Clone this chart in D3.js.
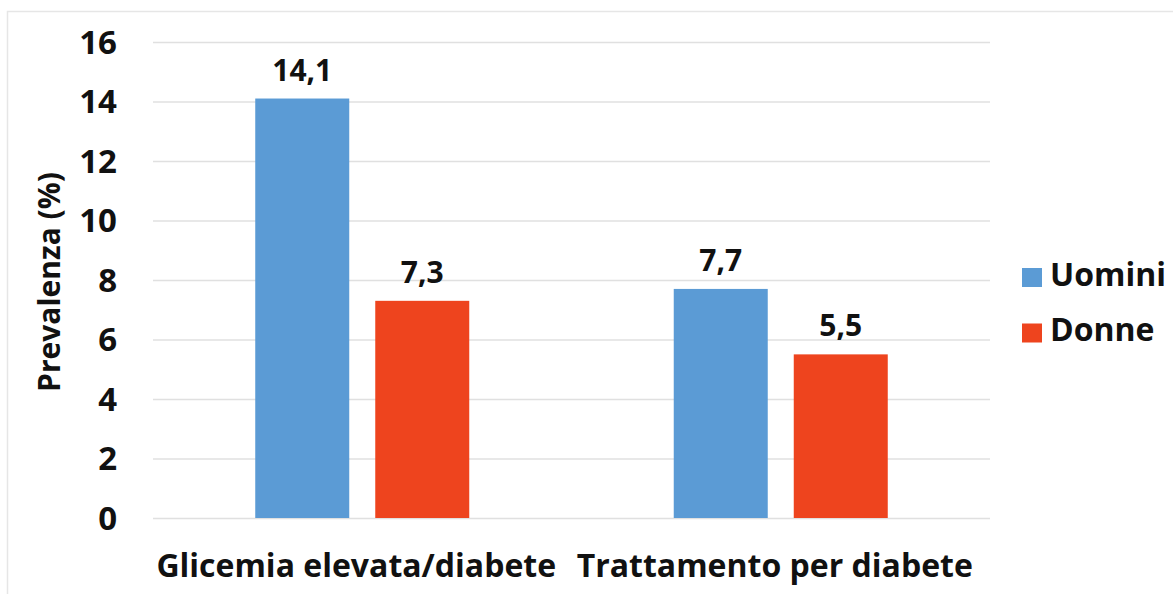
<!DOCTYPE html>
<html><head><meta charset="utf-8">
<script src="https://cdn.jsdelivr.net/npm/d3@7"></script>
<style>
html,body{margin:0;padding:0;background:#fff;}
svg{display:block;font-family:"Open Sans",Lato,sans-serif;font-weight:bold;}
</style></head>
<body>
<svg id="chart" width="1173" height="594"></svg>
<script>
const categories = ["Glicemia elevata/diabete", "Trattamento per diabete"];
const seriesNames = ["Uomini", "Donne"];
const uomini = [14.1, 7.7];
const donne = [7.3, 5.5];
const valueLabels = [["14,1", "7,7"], ["7,3", "5,5"]];
const yTicks = [0, 2, 4, 6, 8, 10, 12, 14, 16];
const colors = ["#5B9BD5", "#EE441E"];
const yTitle = "Prevalenza (%)";

(function () {
const svg = d3.select("#chart");
const W = 1173, H = 594;
const pLeft = 153, pRight = 990, pTop = 42, pBottom = 518;
const FONT = "'Open Sans', Lato, sans-serif";

svg.append("path").attr("d", `M7.5,${H}V11.5H${W}`)
  .attr("fill", "none").attr("stroke", "#E6E6E6").attr("stroke-width", 1.5);

const y = d3.scaleLinear().domain([0, 16]).range([pBottom, pTop]);
const x0 = d3.scaleBand().domain(categories).range([pLeft, pRight]).paddingInner(0).paddingOuter(0);
const x1 = d3.scaleBand().domain(seriesNames).range([0, x0.bandwidth()]).paddingInner(0.2167).paddingOuter(0.852);

const yAxis = d3.axisLeft(y).tickValues(yTicks).tickSize(-(pRight - pLeft)).tickPadding(36);
const gy = svg.append("g").attr("transform", `translate(${pLeft},0)`).call(yAxis);
gy.select(".domain").remove();
gy.selectAll(".tick line").attr("stroke", "#E0E0E0").attr("stroke-width", 1.5);
gy.selectAll(".tick text").attr("font-size", 33).attr("fill", "#111")
  .attr("font-family", FONT).attr("font-weight", "bold").attr("dy", "0.34em");

const data = categories.map((c, i) => ({cat: c, vals: [uomini[i], donne[i]]}));
const groups = svg.append("g").selectAll("g").data(data).join("g")
  .attr("transform", d => `translate(${x0(d.cat)},0)`);
groups.selectAll("rect").data((d, i) => d.vals.map((v, j) => ({v, j, i}))).join("rect")
  .attr("x", d => x1(seriesNames[d.j])).attr("width", x1.bandwidth())
  .attr("y", d => y(d.v)).attr("height", d => y(0) - y(d.v))
  .attr("fill", d => colors[d.j]);
groups.selectAll("text.val").data((d, i) => d.vals.map((v, j) => ({v, j, i}))).join("text")
  .attr("class", "val")
  .attr("x", d => x1(seriesNames[d.j]) + x1.bandwidth() / 2)
  .attr("y", d => y(d.v) - 18)
  .attr("text-anchor", "middle").attr("font-size", 30).attr("fill", "#111")
  .text(d => valueLabels[d.j][d.i]);

svg.append("g").selectAll("text").data(categories).join("text")
  .attr("x", d => x0(d) + x0.bandwidth() / 2 - 6)
  .attr("y", 577)
  .attr("text-anchor", "middle").attr("font-size", 32).attr("fill", "#111")
  .text(d => d);

svg.append("text").attr("transform", `translate(60,${(pTop + pBottom) / 2 + 2}) rotate(-90)`)
  .attr("text-anchor", "middle").attr("font-size", 30).attr("fill", "#111").text(yTitle);

const lg = svg.append("g").selectAll("g").data(seriesNames).join("g")
  .attr("transform", (d, i) => `translate(1022,${268 + i * 55.5})`);
lg.append("rect").attr("width", 20).attr("height", 19).attr("fill", (d, i) => colors[i]);
lg.append("text").attr("x", 28).attr("y", 16).attr("dy", "0.05em").attr("font-size", 32).attr("fill", "#111").text(d => d);
})();
</script>
</body></html>
